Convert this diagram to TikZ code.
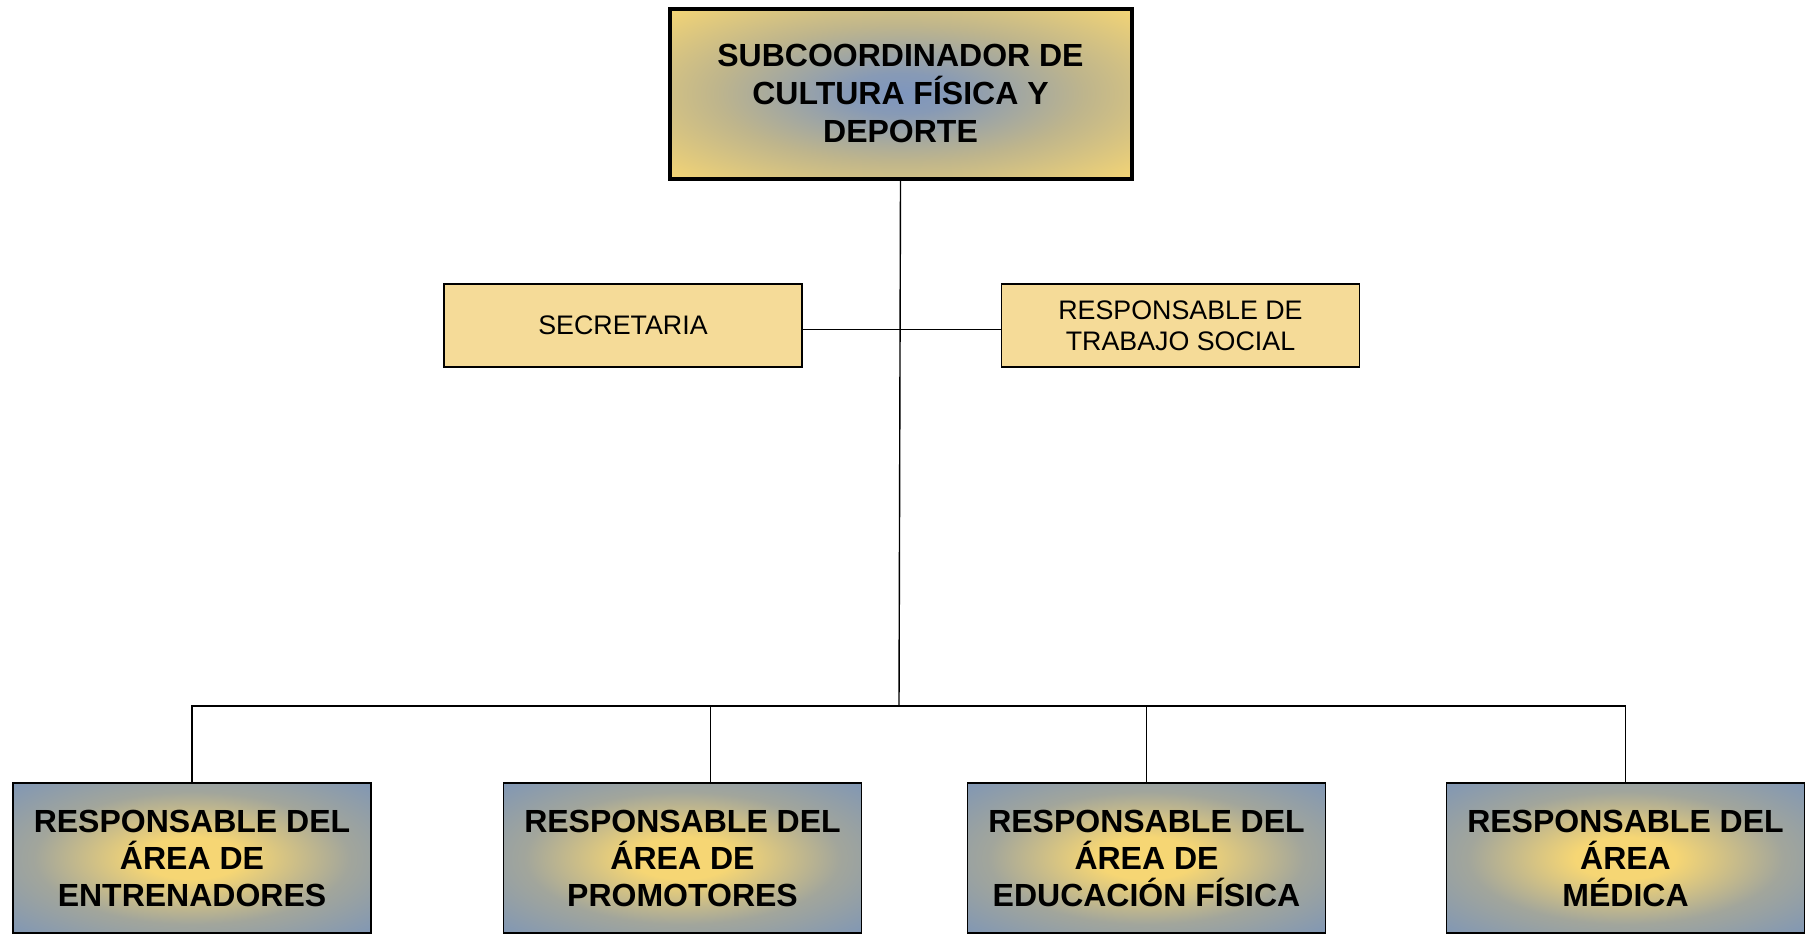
\documentclass[tikz,border=0pt]{standalone}
\usepackage{fontspec}
\setmainfont{Liberation Sans}
\usepackage{tikz}
\usetikzlibrary{calc,positioning}
\definecolor{boxgold}{RGB}{246,214,116}
\definecolor{boxsand}{RGB}{245,219,152}
\definecolor{glowblue}{RGB}{126,150,190}
\definecolor{glowgrey}{RGB}{172,170,148}
\definecolor{areablue}{RGB}{122,148,185}
\pgfdeclareradialshading{jefeglow}{\pgfpoint{0bp}{0bp}}{color(0bp)=(glowblue); color(6bp)=(glowblue!80!glowgrey); color(20bp)=(glowgrey!75!boxgold); color(36bp)=(boxgold); color(100bp)=(boxgold)}
\pgfdeclareradialshading{areaglow}{\pgfpoint{0bp}{0bp}}{color(0bp)=(boxgold); color(7bp)=(boxgold); color(22bp)=(glowgrey!80!areablue); color(38bp)=(areablue); color(100bp)=(areablue)}

\begin{document}
\begin{tikzpicture}[x=0.5pt,y=-0.5pt,
	jefe/.style={draw=black, line width=2pt, shading=jefeglow, minimum width=231pt, minimum height=85pt, align=center, font=\fontsize{16}{19}\selectfont\bfseries},
	apoyo/.style={draw=black, line width=0.6pt, fill=boxsand, minimum width=179pt, minimum height=41.5pt, align=center, font=\fontsize{13.4}{15.6}\selectfont},
	area/.style={draw=black, line width=0.6pt, shading=areaglow, minimum width=179pt, minimum height=75pt, align=center, font=\fontsize{16}{18.5}\selectfont\bfseries},
	linea/.style={draw=black, line width=0.7pt}]
	\useasboundingbox (0,0) rectangle (1810,934);
	
	%%%%%%%%%% jefatura %%%%%%%%%%
	\node[jefe] (sub) at (900.5,93.5) {SUBCOORDINADOR DE\\CULTURA FÍSICA Y\\DEPORTE};
	
	%%%%%%%%%% apoyo %%%%%%%%%%
	\node[apoyo] (sec) at (623,325.5) {SECRETARIA};
	\node[apoyo] (tso) at (1180.5,325.5) {RESPONSABLE DE\\TRABAJO SOCIAL};
	
	%%%%%%%%%% áreas %%%%%%%%%%
	\node[area] (ent) at (192,858) {RESPONSABLE DEL\\ÁREA DE\\ENTRENADORES};
	\node[area] (pro) at (682.5,858) {RESPONSABLE DEL\\ÁREA DE\\PROMOTORES};
	\node[area] (edu) at (1146.5,858) {RESPONSABLE DEL\\ÁREA DE\\EDUCACIÓN FÍSICA};
	\node[area] (med) at (1625.5,858) {RESPONSABLE DEL\\ÁREA\\MÉDICA};
	
	%%%%%%%%%% líneas %%%%%%%%%%
	\coordinate (bus) at (899,706);
	\draw[linea] (sub.south) -- (bus);
	\draw[linea] ([yshift=-2pt]sec.east) -- ([yshift=-2pt]tso.west);
	\draw[linea] (bus) -| (ent.north);
	\draw[linea] (bus) -| ([xshift=14pt]pro.north);
	\draw[linea] (bus) -| (edu.north);
	\draw[linea] (bus) -| (med.north);
\end{tikzpicture}
\end{document}
